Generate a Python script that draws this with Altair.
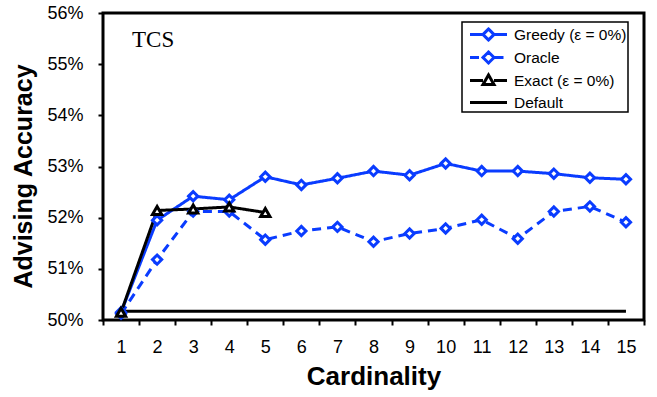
import altair as alt
import pandas as pd

cardinality = [1, 2, 3, 4, 5, 6, 7, 8, 9, 10, 11, 12, 13, 14, 15]
greedy = [50.15, 51.95, 52.42, 52.35, 52.80, 52.64, 52.77, 52.91, 52.83, 53.06, 52.91, 52.91, 52.86, 52.78, 52.75]
oracle = [50.12, 51.18, 52.12, 52.12, 51.57, 51.74, 51.82, 51.53, 51.69, 51.79, 51.96, 51.59, 52.12, 52.22, 51.91]
exact_card = [1, 2, 3, 4, 5]
exact = [50.15, 52.14, 52.17, 52.21, 52.10]
default = [50.17, 50.17, 50.17, 50.17, 50.17, 50.17, 50.17, 50.17, 50.17, 50.17, 50.17, 50.17, 50.17, 50.17, 50.17]

series_names = ["Greedy (ε = 0%)", "Oracle", "Exact (ε = 0%)", "Default"]
y_ticks = [50, 51, 52, 53, 54, 55, 56]

BLUE = "#0a3cff"
rows = []
for name, xs, vals in [
    (series_names[0], cardinality, greedy),
    (series_names[1], cardinality, oracle),
    (series_names[2], exact_card, exact),
    (series_names[3], cardinality, default),
]:
    for c, v in zip(xs, vals):
        rows.append({"card": c, "acc": v, "series": name})
df = pd.DataFrame(rows)

FONT = "Liberation Sans"

x_enc = alt.X(
    "card:O",
    sort=cardinality,
    scale=alt.Scale(type="band", paddingInner=0, paddingOuter=0),
    axis=alt.Axis(
        title="Cardinality", labelAngle=0, tickBand="extent", domain=False,
        tickSize=5, tickWidth=2, tickColor="black", labelPadding=13,
        labelFont=FONT, labelFontSize=18, labelColor="black",
        titleFont=FONT, titleFontSize=26, titleFontWeight="bold",
        titleColor="black", titlePadding=7, grid=False,
    ),
)
y_enc = alt.Y(
    "acc:Q",
    scale=alt.Scale(domain=[50, 56], nice=False, zero=False),
    axis=alt.Axis(
        title="Advising Accuracy", values=y_ticks, labelExpr="datum.value + '%'",
        domain=False, tickSize=5, tickWidth=2, tickColor="black", labelPadding=15,
        labelFont=FONT, labelFontSize=18, labelColor="black",
        titleFont=FONT, titleFontSize=25, titleFontWeight="bold",
        titleColor="black", titlePadding=10, titleY=163, titleAlign="center",
        grid=False,
    ),
)

# legend glyphs: line segments + marker (diamond outline drawn from 4 starts so dashes cover it)
D = "M0,-0.55L0.55,0L0,0.55L-0.55,0Z"
D2 = "M0,0.55L-0.55,0L0,-0.55L0.55,0Z"
D3 = "M0.55,0L0,0.55L-0.55,0L0,-0.55Z"
D4 = "M-0.55,0L0,-0.55L0.55,0L0,0.55Z"
P_DIAMOND = "M-1.85,0L-0.6,0M0.6,0L1.85,0" + D + D2 + D3 + D4
P_EXACT = "M-1.85,0L-0.55,0M0.55,0L1.85,0M0,-0.55L0.55,0.4L-0.55,0.4Z"
P_DEFAULT = "M-1.85,0L1.85,0"

shape_expr = (
    "datum.value === 'Default' ? '" + P_DEFAULT + "' : "
    "(datum.value === 'Exact (ε = 0%)' ? '" + P_EXACT + "' : '" + P_DIAMOND + "')"
)

legend = alt.Legend(
    orient="none", legendX=359, legendY=9, title=None,
    fillColor="white",
    padding=1, symbolSize=400, symbolOffset=14, labelOffset=14,
    labelFont=FONT, labelFontSize=15.5, labelColor="black",
    rowPadding=-1.5, symbolStrokeWidth=3, labelLimit=300,
    symbolType=alt.ExprRef(expr=shape_expr),
)

color_scale = alt.Scale(domain=series_names, range=[BLUE, BLUE, "black", "black"])
dash_scale = alt.Scale(domain=series_names, range=[[1, 0], [9, 6], [1, 0], [1, 0]])

lines = alt.Chart(df).mark_line(strokeWidth=3).encode(
    x=x_enc,
    y=y_enc,
    color=alt.Color("series:N", scale=color_scale, legend=legend),
    strokeDash=alt.StrokeDash("series:N", scale=dash_scale, legend=legend),
)

points = alt.Chart(df).transform_filter(
    alt.datum.series != "Default"
).mark_point(filled=True, fill="white", strokeWidth=3, size=85, opacity=1).encode(
    x=x_enc,
    y=y_enc,
    stroke=alt.Stroke(
        "series:N",
        scale=alt.Scale(domain=series_names[:3], range=[BLUE, BLUE, "black"]),
        legend=None,
    ),
    shape=alt.Shape(
        "series:N",
        scale=alt.Scale(domain=series_names[:3], range=["diamond", "diamond", "triangle-up"]),
        legend=None,
    ),
)

chart = alt.layer(lines, points).properties(
    width=541,
    height=307,
    background="white",
    autosize=alt.AutoSizeParams(type="none"),
    padding={"left": 103, "top": 13, "right": 13, "bottom": 77},
    title=alt.TitleParams(
        "TCS", anchor="start", frame="group", orient="top", offset=0,
        dx=29, dy=66, baseline="alphabetic",
        font="Liberation Serif", fontSize=23, fontWeight="normal", color="black",
    ),
).configure_view(
    stroke="black", strokeWidth=3
).configure_legend(
    strokeColor="black", strokeWidth=1.5
)

chart.save("out.html", embed_options={"renderer": "svg", "actions": False})
